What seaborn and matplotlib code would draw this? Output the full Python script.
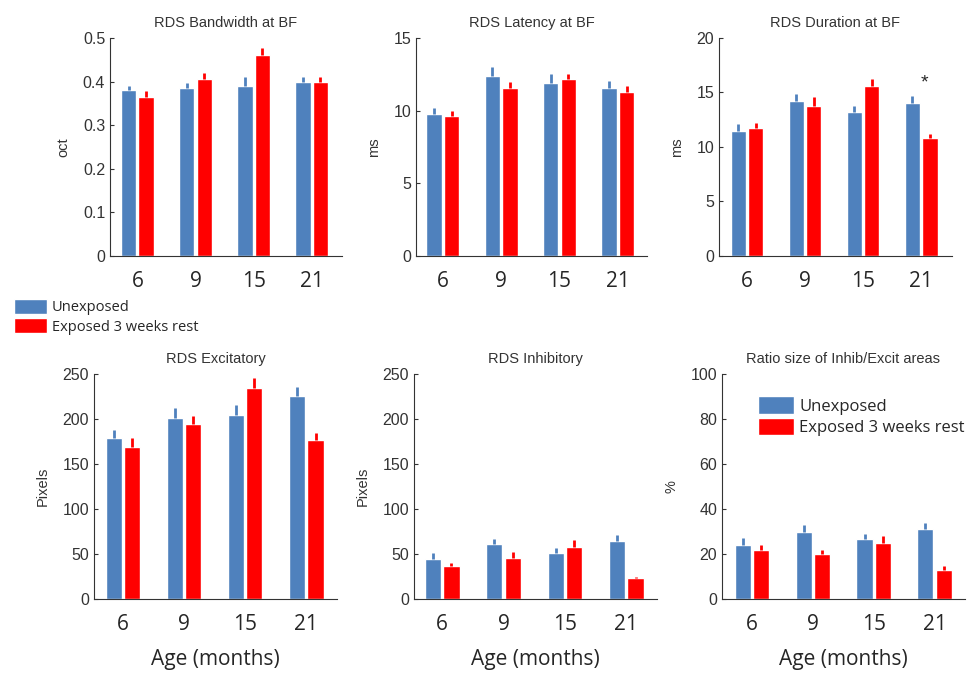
import numpy as np
import pandas as pd
import matplotlib
matplotlib.use("Agg")
import matplotlib.pyplot as plt
import seaborn as sns
from matplotlib.patches import Patch

# ---- data ----
ages = ["6", "9", "15", "21"]
groups = ["Unexposed", "Exposed 3 weeks rest"]

bw_unexp = [0.380, 0.385, 0.391, 0.398]
bw_unexp_err = [0.011, 0.011, 0.020, 0.013]
bw_exp = [0.365, 0.405, 0.462, 0.398]
bw_exp_err = [0.014, 0.015, 0.015, 0.013]

lat_unexp = [9.8, 12.4, 11.9, 11.55]
lat_unexp_err = [0.4, 0.6, 0.6, 0.5]
lat_exp = [9.65, 11.55, 12.15, 11.3]
lat_exp_err = [0.35, 0.45, 0.35, 0.4]

dur_unexp = [11.5, 14.2, 13.2, 14.0]
dur_unexp_err = [0.6, 0.7, 0.6, 0.7]
dur_exp = [11.7, 13.8, 15.6, 10.8]
dur_exp_err = [0.5, 0.8, 0.6, 0.4]

exc_unexp = [179, 201, 204, 226]
exc_unexp_err = [9, 11, 12, 10]
exc_exp = [169, 194, 234, 177]
exc_exp_err = [10, 9, 12, 8]

inh_unexp = [45, 61, 51, 65]
inh_unexp_err = [6, 6, 6, 6]
inh_exp = [37, 46, 58, 23]
inh_exp_err = [3, 6, 8, 2]

ratio_unexp = [24, 30, 26.5, 31]
ratio_unexp_err = [3, 3, 2.5, 3]
ratio_exp = [22, 20, 25, 13]
ratio_exp_err = [2, 2, 3, 1.5]

colors = {"Unexposed": "#4F81BD", "Exposed 3 weeks rest": "#FF0000"}

panels = [
    # title, ylabel, ylim, yticks, unexp, unexp_err, exp, exp_err, axes rect (px), xlim
    ("RDS Bandwidth at BF", "oct", 0.5, np.arange(0, 0.51, 0.1),
     bw_unexp, bw_unexp_err, bw_exp, bw_exp_err, (110, 38, 342, 256), (-0.47, 3.52)),
    ("RDS Latency at BF", "ms", 15, [0, 5, 10, 15],
     lat_unexp, lat_unexp_err, lat_exp, lat_exp_err, (416, 38, 647, 256), (-0.46, 3.5)),
    ("RDS Duration at BF", "ms", 20, [0, 5, 10, 15, 20],
     dur_unexp, dur_unexp_err, dur_exp, dur_exp_err, (719, 38, 952, 256), (-0.48, 3.53)),
    ("RDS Excitatory", "Pixels", 250, [0, 50, 100, 150, 200, 250],
     exc_unexp, exc_unexp_err, exc_exp, exc_exp_err, (94, 374, 337, 599), (-0.47, 3.5)),
    ("RDS Inhibitory", "Pixels", 250, [0, 50, 100, 150, 200, 250],
     inh_unexp, inh_unexp_err, inh_exp, inh_exp_err, (414, 374, 657, 599), (-0.46, 3.5)),
    ("Ratio size of Inhib/Excit areas", "%", 100, [0, 20, 40, 60, 80, 100],
     ratio_unexp, ratio_unexp_err, ratio_exp, ratio_exp_err, (722, 374, 965, 599), (-0.49, 3.5)),
]

W, H = 977, 675
sns.set_style("white")
plt.rcParams['font.family'] = ['Liberation Sans', 'DejaVu Sans']
fig = plt.figure(figsize=(W / 100, H / 100), dpi=100)

axes = []
for title, ylab, ymax, yticks, u, ue, e, ee, (x0, y0, x1, y1), xlim in panels:
    ax = fig.add_axes([x0 / W, 1 - y1 / H, (x1 - x0) / W, (y1 - y0) / H])
    df = pd.DataFrame({
        "age": ages * 2,
        "group": [groups[0]] * 4 + [groups[1]] * 4,
        "value": u + e,
        "err": ue + ee,
    })
    sns.barplot(data=df, x="age", y="value", hue="group", order=ages,
                hue_order=groups, palette=colors, width=0.6, gap=0.12,
                errorbar=None, legend=False, saturation=1, ax=ax)
    # one-sided error bars on top of each bar, same colour as the bar
    for bars, g in zip(ax.containers, groups):
        sub = df[df["group"] == g]
        xs = [b.get_x() + b.get_width() / 2 for b in bars]
        ax.errorbar(xs, sub["value"].values,
                    yerr=[np.zeros(4), sub["err"].values],
                    fmt="none", ecolor=colors[g], elinewidth=2, capsize=0)
    ax.set_xlim(*xlim)
    ax.set_ylim(0, ymax)
    ax.set_yticks(yticks)
    if ymax == 0.5:
        ax.set_yticklabels(["0"] + [f"{t:.1f}" for t in yticks[1:]])
    ax.set_title(title, fontsize=10.5, color="#333333", pad=8)
    ax.set_ylabel(ylab, fontsize=10.5, color="#333333", labelpad=9)
    ax.set_xlabel("")
    ax.tick_params(axis="y", labelsize=11.5, colors="#333333", direction="in",
                   length=3, left=True)
    ax.tick_params(axis="x", labelsize=15, pad=11, length=0)
    for lab in ax.get_xticklabels():
        lab.set_family(["Open Sans", "DejaVu Sans"])
    sns.despine(ax=ax)
    ax.spines["left"].set_color("#333333")
    ax.spines["bottom"].set_color("#333333")
    axes.append(ax)

# significance mark on the duration panel
axes[2].text(3.05, 15.9, "*", fontsize=14, ha="center", va="center")

# x-axis labels on bottom row
for ax in axes[3:]:
    ax.set_xlabel("Age (months)", fontsize=15, labelpad=10,
                  family=["Open Sans", "DejaVu Sans"])

handles = [Patch(facecolor=colors[g], label=g) for g in groups]
fig.legend(handles=handles, loc="upper left", bbox_to_anchor=(0.008, 1 - 293 / H),
           frameon=False, handlelength=2.3, handleheight=1.2,
           handletextpad=0.3, labelspacing=0.2, borderaxespad=0,
           prop={"family": ["Open Sans", "DejaVu Sans"], "size": 10.5})
axes[5].legend(handles=handles, loc="upper left", bbox_to_anchor=(0.12, 0.93),
               frameon=False, handlelength=2.2, handleheight=1.2,
               handletextpad=0.3, labelspacing=0.2, borderaxespad=0,
               prop={"family": ["Open Sans", "DejaVu Sans"], "size": 12})

fig.savefig("out.png", dpi=100)
